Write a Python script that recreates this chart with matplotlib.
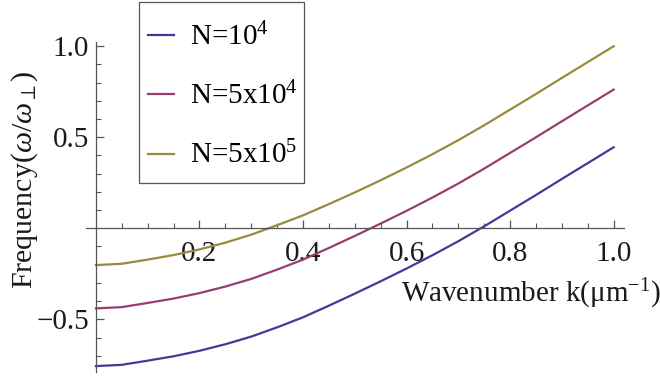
import numpy as np
import matplotlib
matplotlib.use('Agg')
import matplotlib.pyplot as plt
from matplotlib.patches import Rectangle
from matplotlib.ticker import FixedLocator

plt.rcParams['font.family'] = ['Liberation Serif', 'DejaVu Serif']
plt.rcParams['mathtext.fontset'] = 'custom'
plt.rcParams['mathtext.rm'] = 'Liberation Serif'
plt.rcParams['mathtext.it'] = 'Liberation Serif:italic'
plt.rcParams['mathtext.fallback'] = 'cm'

# values (k step 0.05)
k = [0.00, 0.05, 0.10, 0.15, 0.20, 0.25, 0.30, 0.35, 0.40, 0.45, 0.50,
     0.55, 0.60, 0.65, 0.70, 0.75, 0.80, 0.85, 0.90, 0.95, 1.00]
freq_1e4 = [-0.757, -0.750, -0.727, -0.703, -0.673, -0.637, -0.595, -0.544, -0.489, -0.425, -0.359,
            -0.291, -0.221, -0.148, -0.071, 0.011, 0.097, 0.183, 0.271, 0.358, 0.445]
freq_5e4 = [-0.440, -0.433, -0.410, -0.386, -0.356, -0.320, -0.278, -0.227, -0.172, -0.108, -0.042,
            0.026, 0.096, 0.169, 0.246, 0.328, 0.414, 0.500, 0.588, 0.675, 0.762]
freq_5e5 = [-0.202, -0.195, -0.172, -0.147, -0.116, -0.079, -0.035, 0.017, 0.071, 0.133, 0.197,
            0.264, 0.334, 0.407, 0.484, 0.566, 0.652, 0.738, 0.826, 0.913, 1.000]
labels = ['N=10$^{4}$', 'N=5x10$^{4}$', 'N=5x10$^{5}$']
colors = [(0.24, 0.24, 0.6), (0.6, 0.24, 0.4428), (0.6, 0.547, 0.24)]

xticks = [0.2, 0.4, 0.6, 0.8, 1.0]
yticks = [-0.5, 0.5, 1.0]

W, H = 660, 380
fig = plt.figure(figsize=(6.6, 3.8), dpi=100)
ax = fig.add_axes([85.6 / W, 7.9 / H, 538.4 / W, 330.4 / H])

for ys, lab, c in zip([freq_1e4, freq_5e4, freq_5e5], labels, colors):
    ax.plot(k, ys, color=c, lw=1.6, label=lab)

ax.set_xlim(-0.02, 1.02)
ax.set_ylim(-0.79, 1.025)

for s in ['top', 'right']:
    ax.spines[s].set_visible(False)
ax.spines['left'].set_position(('data', 0))
ax.spines['bottom'].set_position(('data', 0))
for s in ['left', 'bottom']:
    ax.spines[s].set_color('#555555')
    ax.spines[s].set_linewidth(0.9)

ax.xaxis.set_major_locator(FixedLocator(xticks))
ax.xaxis.set_minor_locator(FixedLocator(np.arange(0.05, 1.01, 0.05)))
ax.yaxis.set_major_locator(FixedLocator(yticks))
ax.yaxis.set_minor_locator(FixedLocator([v for v in np.arange(-0.7, 1.01, 0.1) if abs(v) > 1e-6]))
ax.set_xticklabels(['%.1f' % v for v in xticks])
ax.set_yticklabels([('%.1f' % v).replace('-', '\u2212') for v in yticks])
ax.tick_params(which='both', direction='in', color='#555555', labelsize=21, labelcolor='#1a1a1a')
ax.tick_params(which='major', length=5.5, width=0.9)
ax.tick_params(which='minor', length=3.3, width=0.8)
ax.tick_params(axis='x', which='major', pad=9)
ax.tick_params(axis='y', which='major', pad=5)

fig.text(25 / W, 1 - 180 / H, 'Frequency($\\omega/\\omega_{\\perp}$)', rotation=90,
         ha='center', va='center', fontsize=21.5, color='#1a1a1a')
fig.text(401 / W, 1 - 302 / H, 'Wavenumber k(\u03bcm$^{-1}$)', ha='left', va='baseline',
         fontsize=21, color='#1a1a1a')

# legend box drawn by hand, entries by the legend
box = Rectangle((138.7 / W, 1 - 182.7 / H), 165.6 / W, 181 / H,
                transform=fig.transFigure, facecolor='white',
                edgecolor='#555555', lw=0.9, zorder=3, clip_on=False)
ax.add_patch(box)
leg = ax.legend(loc='upper left', bbox_to_anchor=(147.7 / W, 1 - 23 / H),
                bbox_transform=fig.transFigure, borderaxespad=0, borderpad=0,
                fontsize=21, handlelength=0.89, handletextpad=0.55,
                labelspacing=1.05, frameon=False)
leg.set_zorder(4)

fig.savefig('out.png', dpi=100)
